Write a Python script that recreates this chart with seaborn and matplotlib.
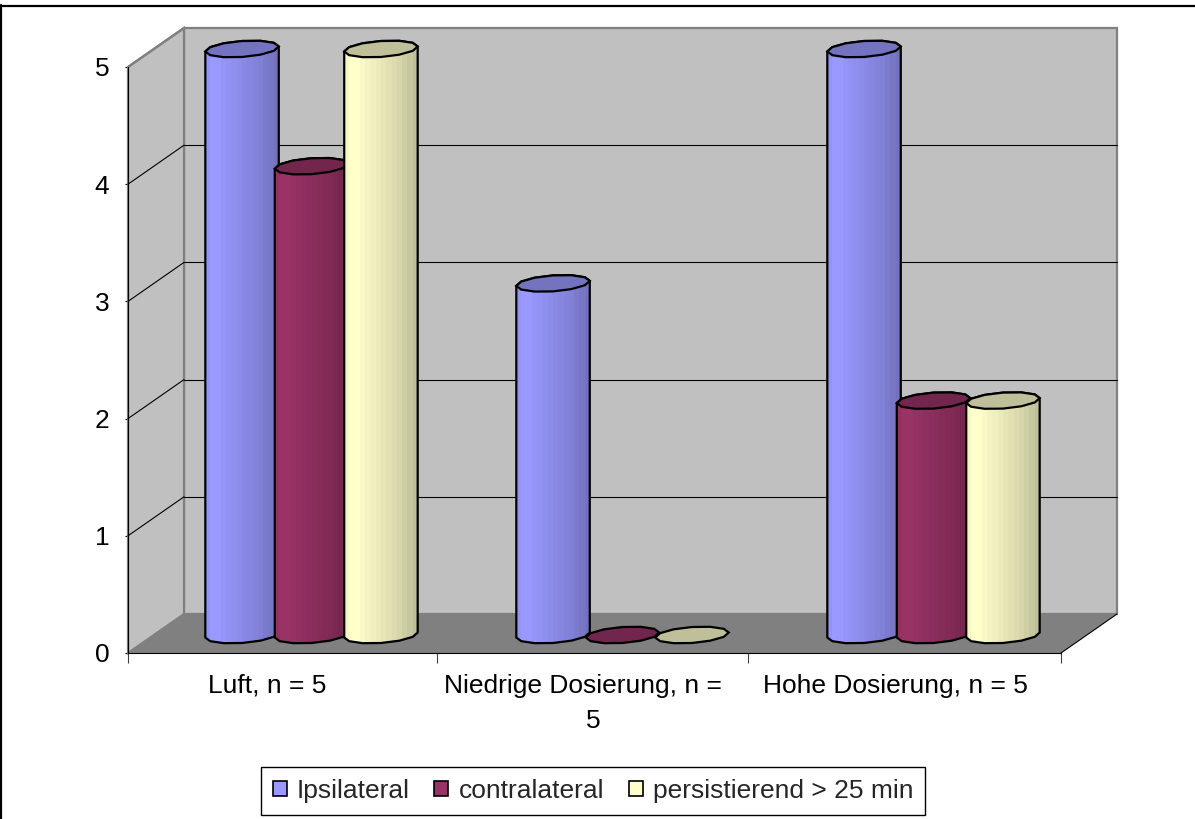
import numpy as np
import pandas as pd
import seaborn as sns
import matplotlib.pyplot as plt
from matplotlib.colors import to_rgb
from matplotlib.patches import Polygon, Patch
from matplotlib.lines import Line2D

gruppen = ['Luft, n = 5', 'Niedrige Dosierung, n =   \n5', 'Hohe Dosierung, n = 5']
serien = ['Ipsilateral', 'contralateral', 'persistierend > 25 min']
ipsilateral = [5, 3, 5]
contralateral = [4, 0, 2]
persistierend = [5, 0, 2]
farben = ['#9999FF', '#993366', '#FFFFCC']
y_ticks = [0, 1, 2, 3, 4, 5]

dados = pd.DataFrame({
    'gruppe': gruppen * 3,
    'serie': [s for s in serien for _ in gruppen],
    'wert': ipsilateral + contralateral + persistierend,
})

sns.set_style('white')
plt.rcParams['font.family'] = ['Liberation Sans', 'DejaVu Sans']

fig = plt.figure(figsize=(11.95, 8.19), dpi=100)
ax = fig.add_axes([128 / 1195, 1 - 653 / 819, 933 / 1195, 586 / 819])

sns.barplot(data=dados, x='gruppe', y='wert', hue='serie', order=gruppen, hue_order=serien,
            palette=farben, saturation=1, width=0.67, legend=False, ax=ax)
balken = sorted(ax.patches, key=lambda p: p.get_x())

# 3d box: pixel sizes turned into data units
px_x = 1 / 311
px_y = 5 / 586
tief_x = 56 * px_x
tief_y = 39 * px_y

x0, x1 = -0.5, 2.5

# walls and floor
ax.add_patch(Polygon([(x0 + tief_x, tief_y), (x0 + tief_x, 5 + tief_y), (x1 + tief_x, 5 + tief_y), (x1 + tief_x, tief_y)],
                     fc='#C0C0C0', ec='#808080', lw=1.6, clip_on=False, zorder=0.5))
ax.add_patch(Polygon([(x0, 0), (x0, 5), (x0 + tief_x, 5 + tief_y), (x0 + tief_x, tief_y)],
                     fc='#C0C0C0', ec='#808080', lw=1.6, clip_on=False, zorder=0.6))
ax.add_patch(Polygon([(x0, 0), (x0 + tief_x, tief_y), (x1 + tief_x, tief_y), (x1, 0)],
                     fc='#808080', ec='none', clip_on=False, zorder=0.7))
ax.plot([x1, x1 + tief_x], [0, tief_y], color='black', lw=0.8, clip_on=False, zorder=0.8)

# grid on the back wall and the side wall
for v in y_ticks[1:-1]:
    ax.plot([x0 + tief_x, x1 + tief_x], [v + tief_y, v + tief_y], color='black', lw=0.8, clip_on=False, zorder=0.8)
for v in y_ticks[1:]:
    ax.plot([x0, x0 + tief_x], [v, v + tief_y], color='black' if v < 5 else '#808080', lw=0.8 if v < 5 else 1.6,
            clip_on=False, zorder=0.8)

# cylinders built from the seaborn bars
baender = np.array([0.97, 1, 1, 0.98, 0.96, 0.94, 0.92, 0.90, 0.88, 0.86, 0.84, 0.81, 0.78, 0.75])
for i, p in enumerate(balken):
    p.set_visible(False)
    h = p.get_height()
    xm = p.get_x() + p.get_width() / 2 + tief_x / 2
    rx = p.get_width() / 2 + 2 * px_x
    ry = 8 * px_y
    k = 2.5 * px_y
    y_unten = 18 * px_y
    y_oben = h + y_unten
    farbe = np.array(to_rgb(p.get_facecolor()))
    th = np.linspace(0, 2 * np.pi, 13)
    ring_x = xm + rx * np.cos(th)
    ring_y = ry * np.sin(th) + k * np.cos(th)
    z = 3 + i * 0.1
    if h > 0:
        halb = th[6:]
        oben = th[:7]
        koerper = np.concatenate([
            np.c_[xm + rx * np.cos(halb), y_unten + ry * np.sin(halb) + k * np.cos(halb)],
            np.c_[xm + rx * np.cos(oben), y_oben + ry * np.sin(oben) + k * np.cos(oben)],
        ])
        form = Polygon(koerper, fc='none', ec='black', lw=1.6, zorder=z + 0.02, clip_on=False)
        ax.add_patch(form)
        bild = (baender[None, :, None] * farbe).clip(0, 1)
        im = ax.imshow(bild, extent=[xm - rx, xm + rx, 0, y_oben + 0.1], aspect='auto',
                       interpolation='nearest', zorder=z + 0.01)
        im.set_clip_box(fig.bbox)
        im.set_clip_path(form)
    ax.add_patch(Polygon(np.c_[ring_x, y_oben + ring_y], fc=farbe * 0.75, ec='black', lw=1.6,
                         zorder=z + 0.03, clip_on=False))

ax.set_xlim(x0, x1)
ax.set_ylim(0, 5)
ax.set_xlabel('')
ax.set_ylabel('')
ax.set_facecolor('none')

sns.despine(ax=ax, top=True, right=True)
for lado in ['left', 'bottom']:
    ax.spines[lado].set_color('black')
    ax.spines[lado].set_linewidth(0.8)
    ax.spines[lado].set_zorder(1)

ax.set_yticks(y_ticks)
ax.set_xticks([x0, 0.5 - 2 * px_x, 1.5 - 2 * px_x, x1])
ax.set_xticklabels([])
ax.set_xticks([-16 * px_x, 1 - 1 * px_x, 2 - 10 * px_x], minor=True)
ax.set_xticklabels(gruppen, minor=True, fontsize=19, linespacing=1.58, color='black')
ax.tick_params(axis='y', left=True, length=2.5, width=0.8, pad=11, labelsize=19, labelcolor='black', color='black')
ax.tick_params(axis='x', which='major', bottom=True, length=7.2, width=0.8, color='#404040')
ax.tick_params(axis='x', which='minor', bottom=False, length=0, pad=15)

handles = [Patch(fc=c, ec='black', lw=1.2, label=s) for c, s in zip(farben, serien)]
fig.legend(handles=handles, loc='center', bbox_to_anchor=(593 / 1195, 1 - 791 / 819), ncol=3, fontsize=19,
           frameon=True, fancybox=False, framealpha=1, edgecolor='black', handlelength=0.53, handleheight=0.53,
           handletextpad=0.38, columnspacing=0.93, borderpad=0.45, borderaxespad=0)

# outer frame of the chart object, only top and left are on the picture
fig.add_artist(Line2D([0, 1], [1 - 5.5 / 819, 1 - 5.5 / 819], color='black', lw=1.6))
fig.add_artist(Line2D([1 / 1195, 1 / 1195], [0, 1 - 5 / 819], color='black', lw=1.6))

fig.savefig('out.png', dpi=100)
